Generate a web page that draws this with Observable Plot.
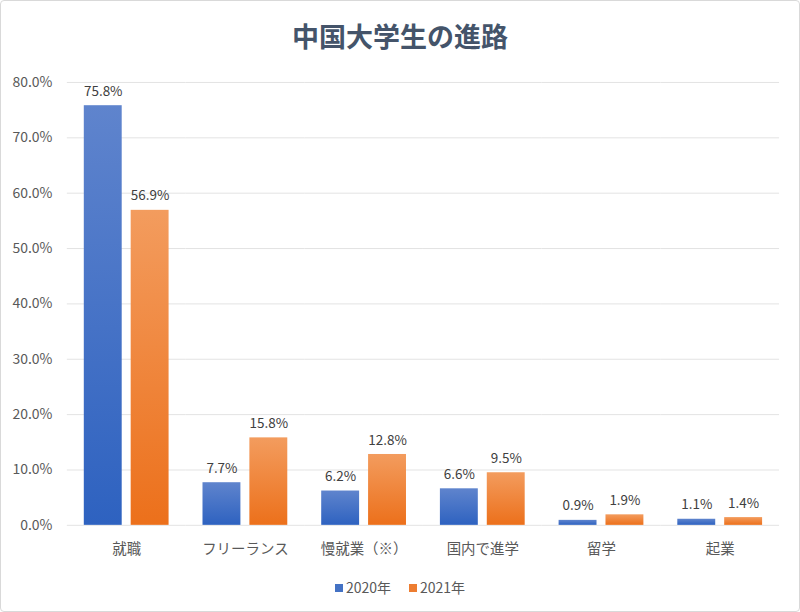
<!DOCTYPE html>
<html><head><meta charset="utf-8">
<script src="https://cdn.jsdelivr.net/npm/d3@7"></script>
<script src="https://cdn.jsdelivr.net/npm/@observablehq/plot@0.6"></script>
<style>
html,body{margin:0;padding:0;background:#fff;}
#wrap{width:798px;height:610px;border:1px solid #d9d9d9;border-radius:4px;position:relative;overflow:hidden;font-family:"Noto Sans CJK JP","Noto Sans",sans-serif;}
#title{height:62px;line-height:70px;text-align:center;font-size:27px;font-weight:bold;color:#44546a;}
#chart svg{display:block;}
[aria-label^="fx-axis"] text{font-size:14.5px;}
#legend{position:absolute;top:576px;left:0;width:798px;text-align:center;font-size:14px;color:#595959;}
#legend span.item{display:inline-block;margin:0 9px;}
#legend span.sw{display:inline-block;width:8px;height:8px;margin-right:3px;vertical-align:1px;}
</style></head>
<body>
<div id="wrap">
<div id="title">中国大学生の進路</div>
<div id="chart"></div>
<div id="legend"></div>
</div>
<script>
const categories = ["就職","フリーランス","慢就業（※）","国内で進学","留学","起業"];
const seriesNames = ["2020年","2021年"];
const values2020 = [75.8, 7.7, 6.2, 6.6, 0.9, 1.1];
const values2021 = [56.9, 15.8, 12.8, 9.5, 1.9, 1.4];
const yTicks = [0,10,20,30,40,50,60,70,80];
const seriesColors = ["#4472c4","#ed7d31"];

const data = [];
categories.forEach((c,i)=>{
  data.push({cat:c, series:seriesNames[0], value:values2020[i]});
  data.push({cat:c, series:seriesNames[1], value:values2021[i]});
});

const defs = () => {
  const ns = "http://www.w3.org/2000/svg";
  const d = document.createElementNS(ns, "defs");
  d.innerHTML = `
    <linearGradient id="gBlue" x1="0" y1="0" x2="0" y2="1">
      <stop offset="0" stop-color="#5f84cd"/><stop offset="1" stop-color="#2e62c0"/>
    </linearGradient>
    <linearGradient id="gOrange" x1="0" y1="0" x2="0" y2="1">
      <stop offset="0" stop-color="#f39c5e"/><stop offset="1" stop-color="#ec701b"/>
    </linearGradient>`;
  return d;
};

const plot = Plot.plot({
  width: 800,
  height: 500,
  marginTop: 19,
  marginBottom: 37,
  marginLeft: 64,
  marginRight: 19,
  style: {fontFamily: '"Noto Sans CJK JP","Noto Sans",sans-serif', fontSize: "14px", color: "#595959", background: "transparent"},
  fx: {domain: categories, padding: 0, axis: "bottom", tickSize: 0, tickPadding: 18, label: null},
  x: {domain: seriesNames, paddingInner: 0.2, paddingOuter: 0.36, axis: null},
  y: {domain: [0, 80], ticks: yTicks, tickSize: 0, tickPadding: 15, tickFormat: d => d.toFixed(1) + "%", label: null},
  marks: [
    defs,
    Plot.ruleY(yTicks, {stroke: "#e3e3e3", strokeWidth: 1}),
    Plot.barY(data, {fx: "cat", x: "series", y: "value", fill: d => d.series === seriesNames[0] ? "url(#gBlue)" : "url(#gOrange)"}),
    Plot.text(data, {fx: "cat", x: "series", y: "value", text: d => d.value.toFixed(1) + "%", dy: -10, lineAnchor: "bottom", fill: "#404040", fontSize: 13.5})
  ]
});
document.getElementById("chart").appendChild(plot);

const legend = document.getElementById("legend");
seriesNames.forEach((s,i)=>{
  const item = document.createElement("span");
  item.className = "item";
  const sw = document.createElement("span");
  sw.className = "sw";
  sw.style.background = seriesColors[i];
  item.appendChild(sw);
  item.appendChild(document.createTextNode(s));
  legend.appendChild(item);
});
</script>
</body></html>
